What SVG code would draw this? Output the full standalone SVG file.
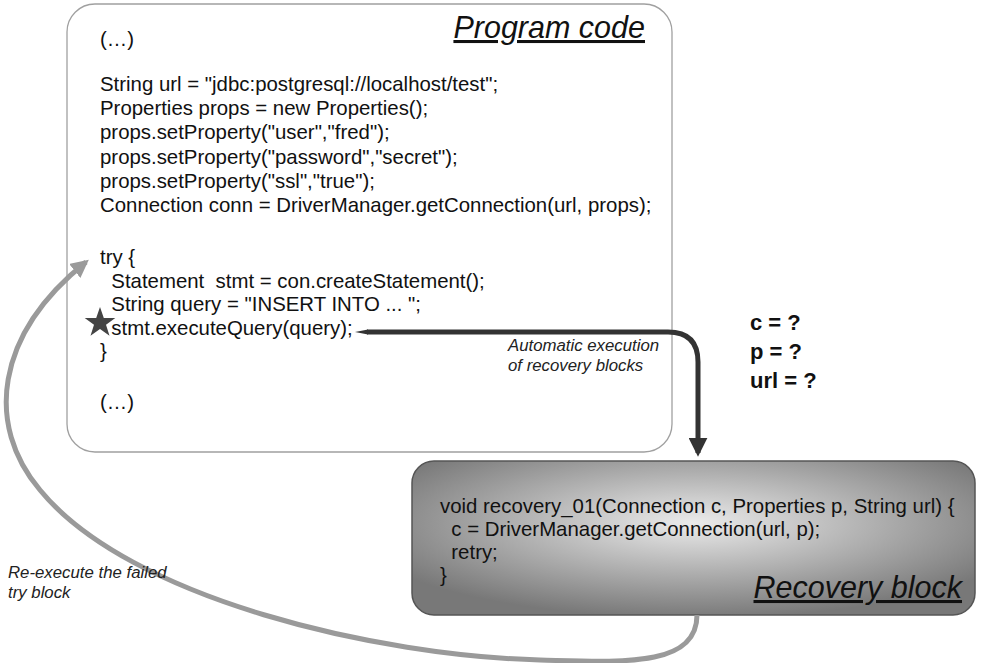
<svg xmlns="http://www.w3.org/2000/svg" width="981" height="663" viewBox="0 0 981 663">
<defs>
<style>
.code{font-family:"Liberation Sans",Arial,sans-serif;font-size:20.4px;fill:#111}
.title{font-family:"Liberation Sans",Arial,sans-serif;font-size:30.5px;font-style:italic;text-decoration:underline;fill:#111;text-anchor:end}
.note{font-family:"Liberation Sans",Arial,sans-serif;font-size:16.8px;font-style:italic;fill:#222}
.vars{font-family:"Liberation Sans",Arial,sans-serif;font-size:22px;font-weight:bold;fill:#111}
</style>
<radialGradient id="rg" cx="0.5" cy="0.4" r="0.62" gradientUnits="objectBoundingBox">
<stop offset="0" stop-color="#ebebeb"/>
<stop offset="1" stop-color="#787878"/>
</radialGradient>
<marker id="ahDark" viewBox="0 0 10 10" refX="8" refY="5" markerWidth="3.8" markerHeight="3.8" orient="auto" markerUnits="strokeWidth">
<path d="M0,0 L10,5 L0,10 Z" fill="#333"/>
</marker>
<marker id="ahGray" viewBox="0 0 10 10" refX="8" refY="5" markerWidth="3.6" markerHeight="3.6" orient="auto" markerUnits="strokeWidth">
<path d="M0,0 L10,5 L0,10 Z" fill="#9a9a9a"/>
</marker>
</defs>
<rect width="981" height="663" fill="#fff"/>

<g id="program-code">
<rect x="67" y="4" width="605" height="448" rx="28" ry="28" fill="#fff" stroke="#a0a0a0" stroke-width="1.3"/>
<text class="title" x="645" y="38">Program code</text>
<text class="code" x="100" y="46">(…)</text>
<text class="code" x="100" y="91">String url = "jdbc:postgresql://localhost/test";</text>
<text class="code" x="100" y="115.2">Properties props = new Properties();</text>
<text class="code" x="100" y="139.4">props.setProperty("user","fred");</text>
<text class="code" x="100" y="163.6">props.setProperty("password","secret");</text>
<text class="code" x="100" y="187.8">props.setProperty("ssl","true");</text>
<text class="code" x="100" y="212">Connection conn = DriverManager.getConnection(url, props);</text>
<text class="code" x="100" y="264" xml:space="preserve">try {</text>
<text class="code" x="100" y="287.5" xml:space="preserve">  Statement  stmt = con.createStatement();</text>
<text class="code" x="100" y="311" xml:space="preserve">  String query = "INSERT INTO ... ";</text>
<text class="code" x="100" y="334.5" xml:space="preserve">  stmt.executeQuery(query);</text>
<text class="code" x="100" y="358">}</text>
<text class="code" x="100" y="409">(…)</text>
</g>

<g id="failure-star">
<polygon points="100,307 103.8,318 115.3,318 106,324.8 109.5,335.8 100,329 90.5,335.8 94,324.8 84.7,318 96.2,318" fill="#444"/>
</g>

<g id="recovery-block">
<rect x="412" y="461" width="563" height="154" rx="22" ry="22" fill="url(#rg)" stroke="#555" stroke-width="1.5"/>
<text class="code" x="440" y="513" xml:space="preserve">void recovery_01(Connection c, Properties p, String url) {</text>
<text class="code" x="440" y="536" xml:space="preserve">  c = DriverManager.getConnection(url, p);</text>
<text class="code" x="440" y="559" xml:space="preserve">  retry;</text>
<text class="code" x="440" y="582">}</text>
<text class="title" x="962" y="598">Recovery block</text>
</g>

<g id="vars">
<text class="vars" x="750" y="330">c = ?</text>
<text class="vars" x="750" y="359">p = ?</text>
<text class="vars" x="750" y="388">url = ?</text>
</g>

<g id="connectors" fill="none">
<polygon points="355,332 368,329.6 368,334.4" fill="#333"/>
<path d="M367,332 L668,332 Q698,332 698,362 L698,453" stroke="#333" stroke-width="5" marker-end="url(#ahDark)"/>
<path d="M697,615 C697,668 620,662 540,660 C380,656 130,600 40,490 C-15,425 -5,335 86,262" stroke="#9a9a9a" stroke-width="5" marker-end="url(#ahGray)"/>
</g>

<g id="labels">
<text class="note" x="508" y="351">Automatic execution</text>
<text class="note" x="508" y="371">of recovery blocks</text>
<text class="note" x="8" y="578">Re-execute the failed</text>
<text class="note" x="8" y="598">try block</text>
</g>
</svg>
